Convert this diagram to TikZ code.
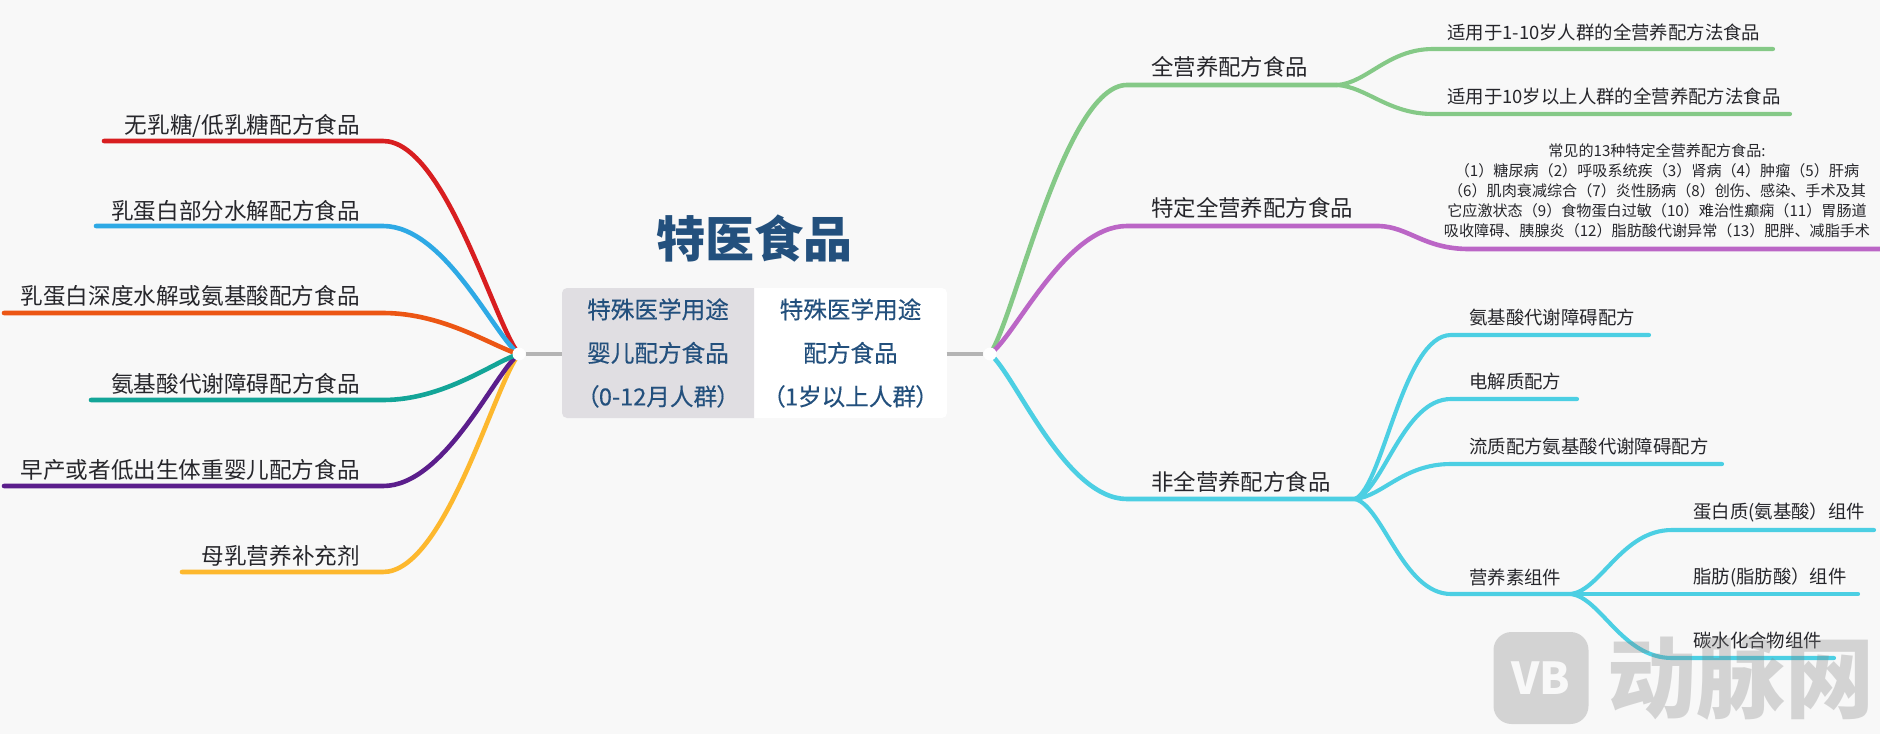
\documentclass[tikz,border=0pt]{standalone}
\usepackage{fontspec}
\usepackage{xcolor}
\setmainfont{Noto Sans CJK SC}
\newfontfamily\boxfont[RawFeature=+palt,FakeBold=0.3]{Noto Sans CJK SC}
\usetikzlibrary{positioning}
\definecolor{pagebg}{HTML}{F8F8F8}
\definecolor{inktext}{HTML}{26262B}
\definecolor{navy}{HTML}{23507D}
\definecolor{boxgrey}{HTML}{E0DEE2}
\definecolor{stemgrey}{HTML}{B4B4B4}
\definecolor{brred}{HTML}{D81E20}
\definecolor{brblue}{HTML}{2EA9E5}
\definecolor{brorange}{HTML}{EC5614}
\definecolor{brteal}{HTML}{13A598}
\definecolor{brpurple}{HTML}{5B1E8C}
\definecolor{bryellow}{HTML}{FDB82E}
\definecolor{brgreen}{HTML}{85C987}
\definecolor{brviolet}{HTML}{BB66C6}
\definecolor{brcyan}{HTML}{4CCFE3}
\tikzset{
  branch/.style={line width=4.6pt, line cap=round},
  twig/.style={line width=4.1pt, line cap=round},
  leftlabel/.style={anchor=east, inner sep=0pt, text=inktext, font=\fontsize{22.6}{26}\selectfont},
  toplabel/.style={anchor=west, inner sep=0pt, text=inktext, font=\fontsize{22.4}{26}\selectfont},
  leaflabel/.style={anchor=west, inner sep=0pt, text=inktext, font=\fontsize{18.4}{22}\selectfont},
  notelabel/.style={inner sep=0pt, align=center, text=inktext, font=\fontsize{15.1}{20}\selectfont},
  kindbox/.style={inner sep=0pt, minimum width=192pt, minimum height=130pt, align=center,
    text=navy, font=\boxfont\fontsize{23.6}{43.5}\selectfont},
  hubdot/.style={circle, fill=white, inner sep=0pt, minimum size=13pt},
  stem/.style={line width=4.7pt, stemgrey},
}
\begin{document}
\begin{tikzpicture}[x=1pt,y=-1pt]
  \useasboundingbox[fill=pagebg] (0,0) rectangle (1880,734);
  \coordinate (lhub) at (519,354);
  \coordinate (rhub) at (990,354);

  % left side
  \draw[branch,brred] (lhub) .. controls +(-24,-28) and +(62,0) .. (383,141) -- (104,141);
  \draw[branch,brblue] (lhub) .. controls +(-24,-17) and +(62,0) .. (383,226) -- (96,226);
  \draw[branch,brorange] (lhub) .. controls +(-24,-6) and +(62,0) .. (383,313) -- (4,313);
  \draw[branch,bryellow] (lhub) .. controls +(-24,29) and +(62,0) .. (383,572) -- (182,572);
  \draw[branch,brpurple] (lhub) .. controls +(-24,18) and +(62,0) .. (383,486) -- (4,486);
  \draw[branch,brteal] (lhub) .. controls +(-24,7) and +(62,0) .. (383,400) -- (91,400);
  \node[leftlabel] (lactose) at (360,126) {无乳糖/低乳糖配方食品};
  \node[leftlabel] (partial) at (360,211) {乳蛋白部分水解配方食品};
  \node[leftlabel] (deep) at (360,296) {乳蛋白深度水解或氨基酸配方食品};
  \node[leftlabel] (amino) at (360,384) {氨基酸代谢障碍配方食品};
  \node[leftlabel] (preterm) at (360,470) {早产或者低出生体重婴儿配方食品};
  \node[leftlabel] (fortifier) at (360,556) {母乳营养补充剂};

  % right side, top level
  \coordinate (fullend) at (1337,85);
  \coordinate (specend) at (1379,226);
  \coordinate (partend) at (1355,499);
  \draw[branch,brgreen] (rhub) .. controls +(25,-36) and +(-62,0) .. (1127,85) -- (fullend);
  \draw[branch,brcyan] (rhub) .. controls +(25,20) and +(-62,0) .. (1127,499) -- (partend);
  \draw[branch,brviolet] (rhub) .. controls +(25,-17) and +(-62,0) .. (1127,226) -- (specend)
    .. controls +(30,1) and +(-45,0) .. (1469,249) -- (1880,249);
  \draw[twig,brgreen] (fullend) .. controls +(30,-2) and +(-45,0) .. (1433,49) -- (1773,49);
  \draw[twig,brgreen] (fullend) .. controls +(30,2) and +(-45,0) .. (1433,114) -- (1790,114);
  \node[toplabel] (full) at (1151,67) {全营养配方食品};
  \node[toplabel] (spec) at (1151,208) {特定全营养配方食品};
  \node[toplabel] (part) at (1151,482) {非全营养配方食品};
  \node[leaflabel] (young) at (1447,32) {适用于1-10岁人群的全营养配方法食品};
  \node[leaflabel] (older) at (1447,96) {适用于10岁以上人群的全营养配方法食品};
  \node[notelabel] (diseases) at (1657,191) {常见的13种特定全营养配方食品:\\
    （1）糖尿病（2）呼吸系统疾（3）肾病（4）肿瘤（5）肝病\\
    （6）肌肉衰减综合（7）炎性肠病（8）创伤、感染、手术及其\\
    它应激状态（9）食物蛋白过敏（10）难治性癫痫（11）胃肠道\\
    吸收障碍、胰腺炎（12）脂肪酸代谢异常（13）肥胖、减脂手术};

  % non-complete formulas
  \coordinate (compend) at (1571,594);
  \draw[twig,brcyan] (partend) .. controls +(28,-12) and +(-48,0) .. (1451,335) -- (1649,335);
  \draw[twig,brcyan] (partend) .. controls +(28,-8) and +(-48,0) .. (1451,399) -- (1577,399);
  \draw[twig,brcyan] (partend) .. controls +(28,-3) and +(-48,0) .. (1451,464) -- (1722,464);
  \draw[twig,brcyan] (partend) .. controls +(28,7) and +(-48,0) .. (1451,594) -- (compend);
  \draw[twig,brcyan] (compend) .. controls +(30,-4) and +(-50,0) .. (1672,530) -- (1874,530);
  \draw[twig,brcyan] (compend) -- (1858,594);
  \draw[twig,brcyan] (compend) .. controls +(30,4) and +(-50,0) .. (1672,658) -- (1834,658);
  \node[leaflabel] (aminof) at (1469,317) {氨基酸代谢障碍配方};
  \node[leaflabel] (electro) at (1469,381) {电解质配方};
  \node[leaflabel] (liquid) at (1469,446) {流质配方氨基酸代谢障碍配方};
  \node[leaflabel] (nutrient) at (1469,577) {营养素组件};
  \node[leaflabel] (protein) at (1693,512) {蛋白质(氨基酸）组件};
  \node[leaflabel] (fat) at (1693,577) {脂肪(脂肪酸）组件};
  \node[leaflabel] (carb) at (1693,640) {碳水化合物组件};

  % centre
  \fill[white,rounded corners=5pt] (562,288) rectangle (947,418);
  \fill[boxgrey] (754,288) [rounded corners=5pt] -- (562,288) -- (562,418) [sharp corners] -- (754,418) -- cycle;
  \node[kindbox] (infant) at (658,353) {特殊医学用途\\婴儿配方食品\\（0-12月人群）};
  \node[kindbox] (adult) at (850.5,353) {特殊医学用途\\配方食品\\（1岁以上人群）};
  \node[text=navy, inner sep=0pt, font=\bfseries\fontsize{49}{52}\selectfont] (title) at (754,239) {特医食品};
  \node[hubdot] (ldot) at (lhub) {};
  \node[hubdot] (rdot) at (rhub) {};
  \draw[stem] (infant.west |- ldot) -- (ldot.east);
  \draw[stem] (adult.east |- rdot) -- (rdot.west);

  % watermark
  \node[fill=black!50, opacity=0.3, rounded corners=18pt, minimum width=95pt, minimum height=92pt] (logo) at (1541,678) {};
  \node[text=pagebg, inner sep=0pt, font=\bfseries\fontsize{44}{48}\selectfont] (logotext) at (1541,678) {VB};
  \node[text=black!50, text opacity=0.3, inner sep=0pt, font=\bfseries\fontsize{89}{92}\selectfont] (mark) at (1741,678) {动脉网};
\end{tikzpicture}
\end{document}
